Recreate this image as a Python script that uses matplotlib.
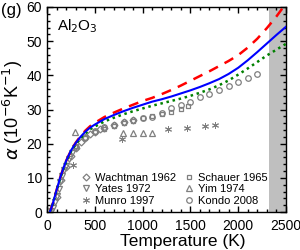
import matplotlib
matplotlib.use("Agg")
import matplotlib.pyplot as plt
from matplotlib.ticker import MultipleLocator

plt.rcParams['font.family'] = ['Liberation Sans', 'DejaVu Sans']

# model curves
curve_T = [30, 60, 100, 136, 170, 200, 250, 300, 350, 400, 450, 500, 600, 700,
           800, 900, 1000, 1100, 1200, 1300, 1400, 1500, 1600, 1700, 1800,
           1900, 2000, 2100, 2200, 2300, 2400, 2500]
blue_a = [0.0, 2.5, 6.5, 10.0, 12.8, 15.0, 18.0, 20.2, 22.0, 23.5, 24.7, 25.6,
          27.2, 28.4, 29.5, 30.5, 31.4, 32.3, 33.0, 33.8, 34.7, 35.6, 36.6,
          37.7, 38.9, 40.4, 42.2, 44.4, 46.8, 49.3, 51.8, 54.2]
red_a = [0.0, 2.5, 6.5, 10.0, 12.8, 15.0, 18.0, 20.3, 22.2, 23.8, 25.1, 26.1,
         27.8, 29.1, 30.3, 31.4, 32.5, 33.4, 34.5, 35.7, 37.0, 38.4, 39.8,
         41.2, 42.7, 44.2, 45.9, 48.1, 50.7, 53.8, 57.2, 61.0]
green_a = [0.0, 2.4, 6.3, 9.7, 12.5, 14.7, 17.7, 19.9, 21.6, 23.0, 24.2, 25.0,
           26.5, 27.6, 28.6, 29.5, 30.3, 31.1, 31.8, 32.5, 33.2, 34.0, 34.9,
           35.9, 37.1, 38.5, 40.2, 42.0, 43.9, 45.8, 47.5, 49.2]

# measured data
wachtman_T = [100, 150, 200, 250, 300, 350, 400, 450, 500, 550, 600, 700, 800, 900]
wachtman_a = [4.5, 9.3, 13.3, 16.3, 18.8, 20.4, 21.7, 22.7, 23.5, 24.2, 24.7, 25.5, 26.2, 26.8]
yates_T = [40, 60, 80, 100, 120, 140, 160, 180, 200, 230, 260, 290]
yates_a = [0.3, 1.2, 2.8, 4.8, 6.8, 8.8, 10.5, 12.2, 13.6, 15.6, 17.3, 18.7]
munro_T = [275, 785, 1265, 1460, 1650, 1760]
munro_a = [13.8, 21.3, 24.2, 24.6, 25.1, 25.5]
schauer_T = [300, 400, 500, 600, 700, 800, 900, 1000, 1100, 1200, 1300, 1400, 1475]
schauer_a = [19.3, 21.8, 23.3, 24.4, 25.2, 26.0, 26.7, 27.4, 28.0, 28.7, 29.3, 30.1, 30.9]
yim_T = [290, 795, 900, 1005, 1100]
yim_a = [23.3, 23.0, 23.0, 23.0, 23.0]
kondo_T = [300, 400, 500, 600, 700, 800, 900, 1000, 1100, 1200, 1300, 1400,
           1500, 1600, 1700, 1800, 1900, 2000, 2100, 2200]
kondo_a = [19.0, 22.0, 23.8, 24.8, 25.6, 26.4, 27.0, 27.4, 27.8, 29.0, 30.4,
           31.3, 32.2, 33.6, 34.5, 35.7, 36.9, 38.0, 39.2, 40.4]

T_melt = 2327

gray = '#7f7f7f'
fig = plt.figure(figsize=(3.0, 2.5), dpi=100)
ax = fig.add_axes([0.157, 0.152, 0.796, 0.82])

ax.axvspan(T_melt, 2500, color='#bfbfbf', lw=0, zorder=0)

mk = dict(ls='none', mfc='none', mec=gray, ms=4, mew=0.9, zorder=2)
ax.plot(wachtman_T, wachtman_a, marker='D', label='Wachtman 1962', **dict(mk, ms=3.5))
ax.plot(yates_T, yates_a, marker='v', label='Yates 1972', **mk)
ax.plot(munro_T, munro_a, marker=(6, 2, 0), label='Munro 1997', **dict(mk, ms=5, mew=0.7))
ax.plot(schauer_T, schauer_a, marker='s', label='Schauer 1965', **dict(mk, ms=3.5))
ax.plot(yim_T, yim_a, marker='^', label='Yim 1974', **mk)
ax.plot(kondo_T, kondo_a, marker='o', label='Kondo 2008', **mk)

ax.plot(curve_T, red_a, color='red', ls=(0, (4, 3)), lw=1.8, zorder=3)
ax.plot(curve_T, green_a, color='green', ls=(0, (1, 1.5)), lw=1.8, zorder=3)
ax.plot(curve_T, blue_a, color='blue', lw=1.5, zorder=4)

ax.set_xlim(0, 2500)
ax.set_ylim(0, 60)
ax.xaxis.set_major_locator(MultipleLocator(500))
ax.xaxis.set_minor_locator(MultipleLocator(100))
ax.yaxis.set_major_locator(MultipleLocator(10))
ax.yaxis.set_minor_locator(MultipleLocator(2))
ax.tick_params(which='both', direction='in', top=True, right=True, labelsize=10, width=1)
ax.tick_params(which='major', length=4)
ax.tick_params(which='minor', length=2)
ax.tick_params(axis='x', pad=5)
for s in ax.spines.values():
    s.set_linewidth(1)

ax.set_xlabel('Temperature (K)', fontsize=12.5)
ax.xaxis.set_label_coords(0.57, -0.105)
ax.set_ylabel(r'$\alpha$ (10$^{-6}$K$^{-1}$)', fontsize=13, labelpad=1)
ax.text(0.04, 0.95, r'Al$_2$O$_3$', transform=ax.transAxes, fontsize=11, ha='left', va='top')
fig.text(0.005, 0.99, '(g)', fontsize=12, ha='left', va='top')

ax.legend(loc='lower right', bbox_to_anchor=(0.925, 0.03), ncol=2, frameon=False,
          fontsize=8, handletextpad=0.2, columnspacing=0.6, labelspacing=0.15,
          handlelength=1.2, borderaxespad=0, borderpad=0)

fig.savefig('out.png', dpi=100)
